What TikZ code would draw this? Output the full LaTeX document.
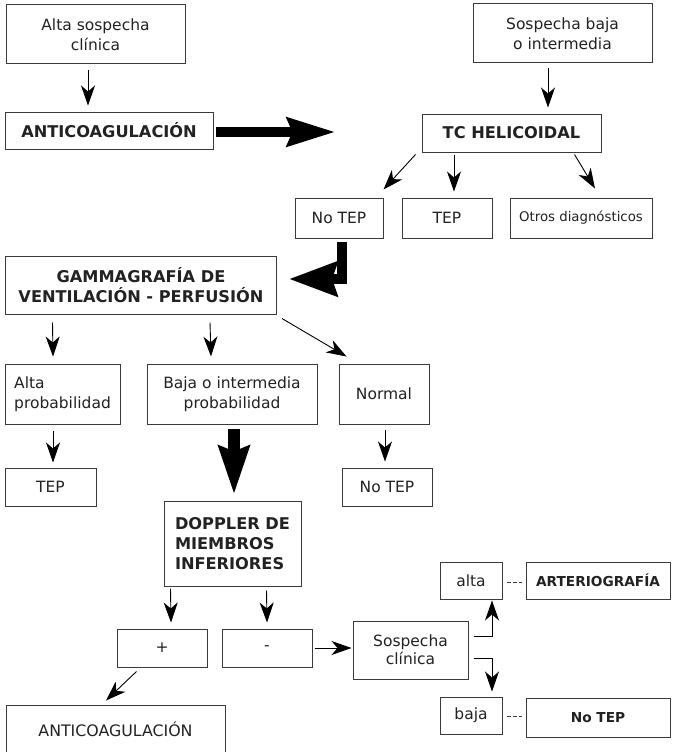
\documentclass[tikz,border=0pt]{standalone}
\usepackage{fontspec}
\setmainfont{DejaVu Sans}
\usetikzlibrary{arrows.meta,calc}
\definecolor{boxc}{HTML}{3A3A3A}
\definecolor{txtc}{HTML}{222222}
\newcommand\regf{\fontsize{15.5}{19.5}\selectfont}
\newcommand\smallf{\fontsize{13.3}{16}\selectfont}
\newcommand\boldf{\fontsize{16.2}{20}\selectfont\bfseries}
\newcommand\sboldf{\fontsize{13.7}{16}\selectfont\bfseries}
\tikzset{
  bx/.style={draw=boxc, line width=1pt, inner sep=0pt, align=center, font=\regf, text=txtc},
  bb/.style={bx, font=\boldf},
  sb/.style={bx, font=\sboldf},
  sz/.style 2 args={minimum width=#1pt, minimum height=#2pt},
  arr/.style={-{Stealth[length=20pt,width=14pt,inset=6pt]}, line width=0.9pt, draw=black},
  thick arr/.style={-{Stealth[length=48pt,width=#1pt,inset=5pt]}, line width=10pt, draw=black, line join=miter},
  dsh/.style={draw=boxc, line width=1pt, dash pattern=on 4pt off 2pt},
}
\begin{document}
\begin{tikzpicture}[x=1pt,y=-1pt]
\useasboundingbox[fill=white] (0,0) rectangle (672,752);

% nodes
\node[bx, sz={179}{59}] (a1) at (95.5,34.5) {Alta sospecha\\clínica};
\node[bb, sz={208}{37}] (anti) at (109,130.5) {ANTICOAGULACIÓN};
\node[bx, sz={179}{59}] (sbi) at (562.5,33.5) {Sospecha baja\\o intermedia};
\node[bb, sz={179}{38}] (tc) at (511.5,133) {TC HELICOIDAL};
\node[bx, sz={88}{40}] (notep1) at (339,218) {No TEP};
\node[bx, sz={90}{40}] (tep1) at (447,218) {TEP};
\node[bx, sz={142}{40}, font=\smallf] (otros) at (581,218) {Otros diagnósticos};
\node[bb, sz={271}{58}] (gamma) at (141,285) {GAMMAGRAFÍA DE\\VENTILACIÓN - PERFUSIÓN};
\node[bx, sz={115}{60}, align=left] (altap) at (62.5,394) {Alta\\probabilidad};
\node[bx, sz={170}{60}] (bajap) at (232,394) {Baja o intermedia\\probabilidad};
\node[bx, sz={90}{60}] (normal) at (384,394) {Normal};
\node[bx, sz={91}{38}] (tep2) at (50.5,487) {TEP};
\node[bx, sz={90}{38}] (notep2) at (387,487) {No TEP};
\node[bb, sz={137}{85}, align=left] (doppler) at (232.5,543.5) {DOPPLER DE\\MIEMBROS\\INFERIORES};
\node[bx, sz={90}{38}] (plus) at (162,648) {+};
\node[bx, sz={90}{38}] (minus) at (267,648) {-};
\node[bx, sz={115}{58}, font=\fontsize{15.5}{18}\selectfont] (sc) at (410.5,650) {Sospecha\\clínica};
\node[bx, sz={62}{37}] (alta) at (471,580.5) {alta};
\node[sb, sz={144}{37}] (arterio) at (598,580.5) {ARTERIOGRAFÍA};
\node[bx, sz={62}{37}] (baja) at (471,715.5) {baja};
\node[sb, sz={144}{39}] (notep3) at (598,717.5) {No TEP};
\node[bx, sz={219}{48}, font=\fontsize{15.8}{19}\selectfont] (anti2) at (115.5,729) {ANTICOAGULACIÓN};

% thin arrows
\draw[arr] ($(a1.south)+(-7.5,6)$) -- ($(anti.north)+(-21,-6)$);
\draw[arr] ($(sbi.south)+(-14.5,5)$) -- ($(tc.north)+(36.5,-6)$);
\draw[arr] ($(tc.south west)+(-6,2)$) -- ($(notep1.north east)+(0,-8)$);
\draw[arr] ($(tc.south)+(-57.5,2)$) -- ($(tep1.north)+(7,-6)$);
\draw[arr] ($(tc.south east)+(-27,2)$) -- ($(otros.north)+(14,-9)$);
\draw[arr] ($(gamma.south west)+(47.5,8)$) -- ($(altap.north)+(-9.5,-7)$);
\draw[arr] ($(gamma.south west)+(205,8)$) -- ($(bajap.north)+(-21,-7)$);
\draw[arr] ($(gamma.south east)+(5,4)$) -- ($(normal.north west)+(8,-7)$);
\draw[arr] ($(altap.south)+(-9.5,6)$) -- ($(tep2.north)+(2.5,-5)$);
\draw[arr] ($(normal.south)+(1,5)$) -- ($(notep2.north)+(-2,-6)$);
\draw[arr] ($(doppler.south west)+(7,2)$) -- ($(plus.north)+(9,-6)$);
\draw[arr] ($(doppler.south west)+(103,4)$) -- ($(minus.north)+(0,-6)$);
\draw[arr] ($(minus.east)+(2,0)$) -- ($(sc.west)+(-1,-2)$);
\draw[arr] ($(sc.east)+(5,-14)$) -| ($(alta.south)+(21,1)$);
\draw[arr] ($(sc.east)+(5,8)$) -| ($(baja.north)+(21,-5)$);
\draw[arr] ($(plus.south west)+(20,4)$) -- ($(anti2.north)+(-9.5,-4)$);

% thick arrows
\draw[thick arr=28] ($(anti.east)+(2,1.5)$) -- ($(tc.west)+(-86,-1)$);
\draw[thick arr=34] ($(notep1.south)+(3,3)$) |- ($(gamma.east)+(12,-6)$);
\draw[thick arr=30, line width=12pt] ($(bajap.south)+(2,4)$) -- ($(doppler.north)+(1.5,-6)$);

% dashed links
\draw[dsh] ($(alta.east)+(4,1.5)$) -- ($(arterio.west)+(-4,1.5)$);
\draw[dsh] ($(baja.east)+(4,0.5)$) -- ($(notep3.west)+(-4,-1.5)$);
\end{tikzpicture}
\end{document}
